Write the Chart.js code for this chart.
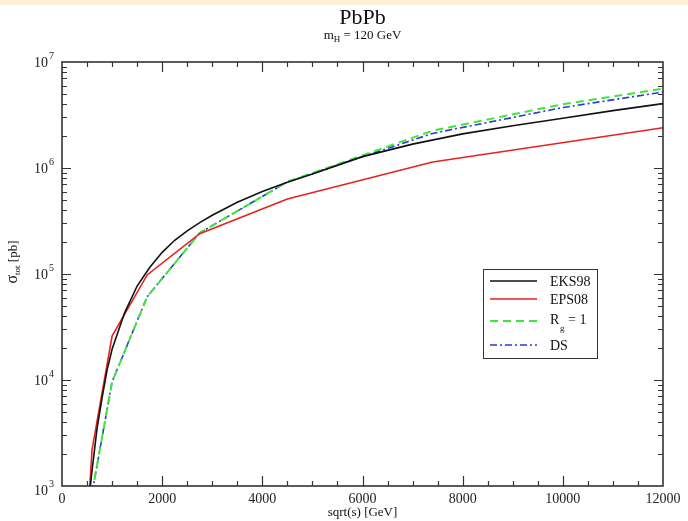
<!DOCTYPE html>
<html>
<head>
<meta charset="utf-8">
<script src="https://cdn.jsdelivr.net/npm/chart.js@4.4.1/dist/chart.umd.min.js"></script>
<style>
html, body { margin: 0; padding: 0; background: #fff; }
#wrap { position: absolute; left: 0; top: 0; width: 688px; height: 521px; }
#strip { position: absolute; left: 0; top: 0; width: 688px; height: 5px; background: #fdf1d8; }
</style>
</head>
<body>
<div id="wrap"><canvas id="chart" width="688" height="521"></canvas></div>
<div id="strip"></div>
<script>
// sqrt(s) in GeV, sigma_tot in pb
const eksX = [550, 600, 700, 800, 900, 1000, 1250, 1500, 1750, 2000, 2250, 2500, 2750, 3000, 3500, 4000, 4500, 5000, 6000, 7000, 8000, 9000, 10000, 11000, 12000];
const eksY = [850, 1400, 3500, 6800, 12400, 19500, 43000, 77000, 115000, 160000, 208000, 255000, 305000, 358000, 475000, 600000, 735000, 880000, 1280000, 1680000, 2100000, 2500000, 2950000, 3480000, 4050000];

const epsX = [550, 600, 1000, 1700, 2750, 4500, 7400, 12000];
const epsY = [900, 2200, 26000, 98000, 240000, 510000, 1140000, 2400000];

const rgX = [600, 1000, 1700, 2750, 4500, 7400, 10000, 12000];
const rgY = [860, 9600, 61000, 244000, 740000, 2250000, 4000000, 5600000];

const dsX = [600, 1000, 1700, 2750, 4500, 7400, 10000, 12000];
const dsY = [860, 9600, 61000, 244000, 740000, 2120000, 3720000, 5200000];

const xTicks = [0, 2000, 4000, 6000, 8000, 10000, 12000];
const yDecades = [3, 4, 5, 6, 7];

function pts(xs, ys) {
    return xs.map(function (x, i) { return { x: x, y: ys[i] }; });
}

const SERIF = '"Liberation Serif", "DejaVu Serif", serif';
const INK = '#333';

const decor = {
    id: 'decor',
    afterDraw: function (chart) {
        const ctx = chart.ctx;
        const a = chart.chartArea;
        const xs = chart.scales.x;
        const ys = chart.scales.y;
        ctx.save();

        // frame
        ctx.strokeStyle = INK;
        ctx.lineWidth = 1.6;
        ctx.strokeRect(a.left, a.top, a.right - a.left, a.bottom - a.top);

        // x ticks (bottom and top, inward)
        ctx.lineWidth = 1.2;
        ctx.beginPath();
        for (let v = 500; v < 12000; v += 500) {
            const px = Math.round(xs.getPixelForValue(v)) + 0.5;
            const len = v % 2000 === 0 ? 10 : 5;
            ctx.moveTo(px, a.bottom); ctx.lineTo(px, a.bottom - len);
            ctx.moveTo(px, a.top); ctx.lineTo(px, a.top + len);
        }
        // y ticks (left and right, inward)
        for (let d = 3; d < 7; d++) {
            for (let m = 1; m <= 9; m++) {
                const v = m * Math.pow(10, d);
                if (m === 1 && d === 3) continue;
                const py = Math.round(ys.getPixelForValue(v)) + 0.5;
                const len = m === 1 ? 9 : 5;
                ctx.moveTo(a.left, py); ctx.lineTo(a.left + len, py);
                ctx.moveTo(a.right, py); ctx.lineTo(a.right - len, py);
            }
        }
        ctx.stroke();

        // y tick labels 10^n
        ctx.fillStyle = '#222';
        ctx.textBaseline = 'alphabetic';
        yDecades.forEach(function (d) {
            let py = ys.getPixelForValue(Math.pow(10, d));
            if (d === 3) py += 4;
            ctx.font = '14px ' + SERIF;
            ctx.textAlign = 'right';
            ctx.fillText('10', 48, py + 5);
            ctx.font = '10px ' + SERIF;
            ctx.textAlign = 'left';
            ctx.fillText(String(d), 49, py - 3);
        });

        const cx = (a.left + a.right) / 2;

        // titles
        ctx.textAlign = 'center';
        ctx.font = '22px ' + SERIF;
        ctx.fillStyle = '#111';
        ctx.fillText('PbPb', cx, 24);

        // subtitle m_H = 120 GeV
        const f1 = '13px ' + SERIF, f2 = '9px ' + SERIF;
        ctx.font = f1; const wm = ctx.measureText('m').width;
        const wr = ctx.measureText(' = 120 GeV').width;
        ctx.font = f2; const wh = ctx.measureText('H').width;
        let sx = cx - (wm + wh + wr) / 2;
        ctx.textAlign = 'left';
        ctx.font = f1; ctx.fillText('m', sx, 39); sx += wm;
        ctx.font = f2; ctx.fillText('H', sx, 42); sx += wh;
        ctx.font = f1; ctx.fillText(' = 120 GeV', sx, 39);

        // x axis title
        ctx.textAlign = 'center';
        ctx.font = '13px ' + SERIF;
        ctx.fillText('sqrt(s) [GeV]', cx, 516);

        // y axis title, rotated
        ctx.save();
        ctx.translate(17, 262);
        ctx.rotate(-Math.PI / 2);
        ctx.textAlign = 'left';
        const g1 = '16px ' + SERIF, g2 = '9px ' + SERIF, g3 = '13px ' + SERIF;
        ctx.font = g1; const ws = ctx.measureText('σ').width;
        ctx.font = g2; const wt = ctx.measureText('tot').width;
        ctx.font = g3; const wp = ctx.measureText(' [pb]').width;
        let tx = -(ws + wt + wp) / 2;
        ctx.font = g1; ctx.fillText('σ', tx, 0); tx += ws;
        ctx.font = g2; ctx.fillText('tot', tx, 3); tx += wt;
        ctx.font = g3; ctx.fillText(' [pb]', tx, 0);
        ctx.restore();

        // legend
        ctx.fillStyle = '#fff';
        ctx.fillRect(483, 269, 114, 89);
        ctx.strokeStyle = INK;
        ctx.lineWidth = 1;
        ctx.strokeRect(483.5, 269.5, 114, 89);
        const rows = [
            { y: 281, ds: chart.data.datasets[0] },
            { y: 299, ds: chart.data.datasets[1] },
            { y: 321, ds: chart.data.datasets[2] },
            { y: 345, ds: chart.data.datasets[3] }
        ];
        rows.forEach(function (r) {
            ctx.beginPath();
            ctx.strokeStyle = r.ds.borderColor;
            ctx.lineWidth = r.ds.borderWidth;
            ctx.setLineDash(r.ds.borderDash || []);
            ctx.moveTo(490, r.y); ctx.lineTo(537, r.y);
            ctx.stroke();
        });
        ctx.setLineDash([]);
        ctx.fillStyle = '#111';
        ctx.textAlign = 'left';
        ctx.font = '14px ' + SERIF;
        ctx.fillText('EKS98', 550, 286);
        ctx.fillText('EPS08', 550, 304);
        ctx.fillText('R', 550, 324);
        ctx.font = '9px ' + SERIF;
        ctx.fillText('g', 560, 331);
        ctx.font = '14px ' + SERIF;
        ctx.fillText('= 1', 568, 324);
        ctx.fillText('DS', 550, 350);

        ctx.restore();
    }
};

new Chart(document.getElementById('chart'), {
    type: 'line',
    data: {
        datasets: [{
            label: 'EKS98',
            data: pts(eksX, eksY),
            borderColor: '#111111',
            borderWidth: 1.6,
            pointRadius: 0,
            fill: false
        }, {
            label: 'EPS08',
            data: pts(epsX, epsY),
            borderColor: '#e5231f',
            borderWidth: 1.6,
            pointRadius: 0,
            fill: false
        }, {
            label: 'Rg = 1',
            data: pts(rgX, rgY),
            borderColor: '#3ee83a',
            borderWidth: 2,
            borderDash: [8, 5],
            pointRadius: 0,
            fill: false
        }, {
            label: 'DS',
            data: pts(dsX, dsY),
            borderColor: '#2b3bd1',
            borderWidth: 1.6,
            borderDash: [7, 3, 2, 3],
            pointRadius: 0,
            fill: false
        }]
    },
    options: {
        responsive: false,
        animation: false,
        layout: { padding: { left: 62, top: 62, right: 25, bottom: 0 } },
        plugins: {
            legend: { display: false },
            title: { display: false },
            tooltip: { enabled: false }
        },
        scales: {
            x: {
                type: 'linear',
                min: 0,
                max: 12000,
                afterBuildTicks: function (s) {
                    s.ticks = xTicks.map(function (v) { return { value: v }; });
                },
                afterFit: function (s) { s.height = 35; },
                grid: { display: false, drawTicks: false },
                border: { display: false },
                ticks: {
                    padding: 5,
                    maxRotation: 0,
                    autoSkip: false,
                    color: '#222',
                    font: { family: SERIF, size: 14 },
                    callback: function (v) { return String(v); }
                }
            },
            y: {
                type: 'logarithmic',
                min: 1000,
                max: 10000000,
                afterFit: function (s) { s.width = 0; },
                grid: { display: false, drawTicks: false },
                border: { display: false },
                ticks: { display: false }
            }
        }
    },
    plugins: [decor]
});
</script>
</body>
</html>
